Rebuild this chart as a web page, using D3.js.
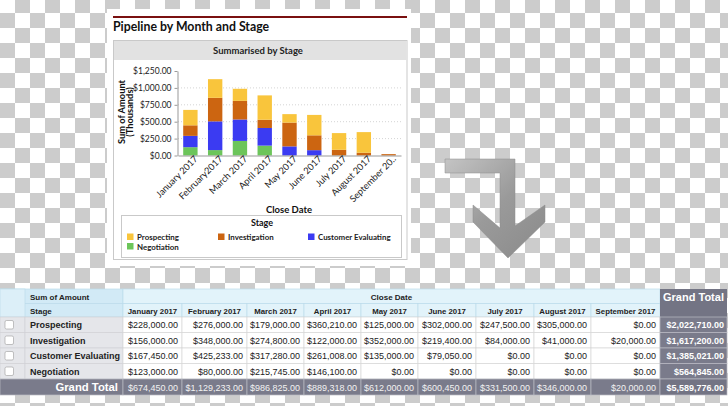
<!DOCTYPE html>
<html><head><meta charset="utf-8">
<script src="https://cdn.jsdelivr.net/npm/d3@7"></script>
<style>html,body{margin:0;padding:0;background:#fff;overflow:hidden}svg{display:block}</style>
</head><body>
<script>
// ---------- DATA ----------
const months = ["January 2017","February 2017","March 2017","April 2017","May 2017","June 2017","July 2017","August 2017","September 2017"];
const chartMonthLabels = ["January 2017","February2017","March 2017","April 2017","May 2017","June 2017","July 2017","August 2017","September 20.."];
const stages = ["Prospecting","Investigation","Customer Evaluating","Negotiation"];
const prospecting = [228000,276000,179000,360210,125000,302000,247500,305000,0];
const investigation = [156000,348000,274800,122000,352000,219400,84000,41000,20000];
const customerEvaluating = [167450,425233,317280,261008,135000,79050,0,0,0];
const negotiation = [123000,80000,215745,146100,0,0,0,0,0];
const yTicks = [0,250,500,750,1000,1250];
const stageColors = {"Prospecting":"#f9c53c","Investigation":"#cc6511","Customer Evaluating":"#3b3bf2","Negotiation":"#6cc55a"};

const seriesByStage = {"Prospecting":prospecting,"Investigation":investigation,"Customer Evaluating":customerEvaluating,"Negotiation":negotiation};
const rows = months.map((m,i)=>({month:m,label:chartMonthLabels[i],
  "Prospecting":prospecting[i]/1000,"Investigation":investigation[i]/1000,
  "Customer Evaluating":customerEvaluating[i]/1000,"Negotiation":negotiation[i]/1000}));

const W=728,H=406;
const svg=d3.select("body").append("svg").attr("width",W).attr("height",H);
const defs=svg.append("defs");
const pat=defs.append("pattern").attr("id","checker").attr("patternUnits","userSpaceOnUse")
  .attr("width",30).attr("height",30).attr("patternTransform","translate(0,-2)");
pat.append("rect").attr("width",30).attr("height",30).attr("fill","#ffffff");
pat.append("rect").attr("x",15).attr("y",0).attr("width",15).attr("height",15).attr("fill","#cccccc");
pat.append("rect").attr("x",0).attr("y",15).attr("width",15).attr("height",15).attr("fill","#cccccc");
svg.append("rect").attr("width",W).attr("height",H).attr("fill","url(#checker)");

// ---------- CHART CARD ----------
const LATO="Lato, 'Open Sans', sans-serif";
svg.append("rect").attr("x",107).attr("y",9).attr("width",304).attr("height",257).attr("fill","#fff");
svg.append("rect").attr("x",113).attr("y",16).attr("width",294).attr("height",2).attr("fill","#7a1010");
svg.append("text").attr("x",113).attr("y",31).attr("font-family",LATO).attr("font-weight","bold")
  .attr("font-size",12.3).attr("fill","#111").text("Pipeline by Month and Stage");
svg.append("rect").attr("x",113.5).attr("y",40.5).attr("width",293.5).attr("height",219)
  .attr("fill","#fff").attr("stroke","#c9c9c9");
svg.append("rect").attr("x",114).attr("y",41).attr("width",292.5).attr("height",19).attr("fill","#e2e2e2");
svg.append("text").attr("x",258).attr("y",54).attr("text-anchor","middle").attr("font-family",LATO)
  .attr("font-weight","bold").attr("font-size",9.5).attr("fill","#222").text("Summarised by Stage");

const x=d3.scaleBand().domain(chartMonthLabels).range([178,401]).paddingInner(0.42).paddingOuter(0.21);
const y=d3.scaleLinear().domain([0,1250]).range([155.5,71]);

const g=svg.append("g");
g.selectAll("line.grid").data(yTicks.slice(1,-1)).join("line")
  .attr("x1",178).attr("x2",401).attr("y1",d=>y(d)).attr("y2",d=>y(d))
  .attr("stroke","#d4d4d4").attr("stroke-dasharray","1,2");

const stackOrder=["Negotiation","Customer Evaluating","Investigation","Prospecting"];
const stacked=d3.stack().keys(stackOrder)(rows);
g.selectAll("g.layer").data(stacked).join("g").attr("fill",d=>stageColors[d.key])
  .selectAll("rect").data(d=>d).join("rect")
  .attr("x",d=>x(d.data.label)).attr("width",x.bandwidth())
  .attr("y",d=>y(d[1])).attr("height",d=>Math.max(0,y(d[0])-y(d[1])));

const yAxis=svg.append("g").attr("transform","translate(177.5,0)")
  .call(d3.axisLeft(y).tickValues(yTicks).tickFormat(d3.format("$,.2f")).tickSize(3).tickSizeOuter(0));
yAxis.selectAll("text").attr("font-family",LATO).attr("font-size",8.5).attr("fill","#222");
yAxis.selectAll("line,path").attr("stroke","#999");

const xAxis=svg.append("g").attr("transform","translate(0,155.5)")
  .call(d3.axisBottom(x).tickSize(0).tickSizeOuter(0));
xAxis.select("path").attr("stroke","#999");
xAxis.selectAll("text").attr("font-family",LATO).attr("font-size",9.2).attr("fill","#222")
  .attr("text-anchor","end").attr("dx","0.3em").attr("dy","0.6em")
  .attr("transform","rotate(-45)");

svg.append("text").attr("transform","translate(124.5,112) rotate(-90)").attr("text-anchor","middle")
  .attr("font-family",LATO).attr("font-weight","bold").attr("font-size",9.3).attr("fill","#111")
  .text("Sum of Amount");
svg.append("text").attr("transform","translate(132.5,112) rotate(-90)").attr("text-anchor","middle")
  .attr("font-family",LATO).attr("font-weight","bold").attr("font-size",9.3).attr("fill","#111")
  .text("(Thousands)");
svg.append("text").attr("x",289).attr("y",213).attr("text-anchor","middle").attr("font-family",LATO)
  .attr("font-weight","bold").attr("font-size",9.5).attr("fill","#111").text("Close Date");

// legend
svg.append("rect").attr("x",121.5).attr("y",215.5).attr("width",280).attr("height",42)
  .attr("fill","#fff").attr("stroke","#c9c9c9");
svg.append("text").attr("x",262).attr("y",226).attr("text-anchor","middle").attr("font-family",LATO)
  .attr("font-weight","bold").attr("font-size",9).attr("fill","#111").text("Stage");
const legPos=[[127,240],[218,240],[308,240],[127,249.5]];
const lg=svg.append("g").selectAll("g").data(stages).join("g")
  .attr("transform",(d,i)=>`translate(${legPos[i][0]},${legPos[i][1]})`);
lg.append("rect").attr("x",0).attr("y",-6.5).attr("width",6.5).attr("height",6.5).attr("fill",d=>stageColors[d]);
lg.append("text").attr("x",10).attr("y",0).attr("font-family",LATO).attr("font-size",7.9).attr("font-weight","bold")
  .attr("fill","#222").text(d=>d);

// ---------- ARROW ----------
const ag=defs.append("linearGradient").attr("id","arrowGrad").attr("x1","0").attr("y1","0").attr("x2","1").attr("y2","1");
ag.append("stop").attr("offset","0").attr("stop-color","#c4c4c4");
ag.append("stop").attr("offset","0.5").attr("stop-color","#9a9a9a");
ag.append("stop").attr("offset","1").attr("stop-color","#8a8a8a");
const arrowPts=[[445,159],[515,159],[515,226],[545,205],[545,222],[508,258],[473,222],[473,205],[500,228],[500,173],[445,173]];
svg.append("path").attr("d",d3.line()(arrowPts)+"Z").attr("fill","url(#arrowGrad)").attr("stroke","#8c8c8c").attr("stroke-width",0.5);

// ---------- TABLE ----------
const SANS="'Liberation Sans', Arial, sans-serif";
const colW=[25,98,59,65,57,57,57,58,58,57,69,67];
const colX=[0]; colW.forEach(w=>colX.push(colX[colX.length-1]+w));
const rowY=[289,303.5,317,332.5,348,363.5,379,395];
const fmt=d3.format("$,.2f");
const tg=svg.append("g");
function cell(x0,x1,y0,y1,fill,stroke){tg.append("rect").attr("x",x0).attr("y",y0).attr("width",x1-x0).attr("height",y1-y0).attr("fill",fill).attr("stroke",stroke||"none").attr("stroke-width",0.7);}
function txt(xx,yy,t,opts){return tg.append("text").attr("x",xx).attr("y",yy).attr("font-family",SANS)
  .attr("font-size",opts.size||9).attr("font-weight",opts.bold?"bold":"normal")
  .attr("fill",opts.color||"#222").attr("text-anchor",opts.anchor||"start").text(t);}

// header rows
cell(0,colX[11],rowY[0],rowY[2],"#dceff8");
cell(colX[0],colX[2],rowY[0],rowY[1],"#d2eaf6","#bcdcec");
cell(colX[0],colX[2],rowY[1],rowY[2],"#d2eaf6","#bcdcec");
cell(0,colX[1],rowY[0],rowY[2],"#dceff8","#bcdcec");
cell(colX[2],colX[11],rowY[0],rowY[1],"#e2f3fa","#bcdcec");
for(let c=2;c<11;c++) cell(colX[c],colX[c+1],rowY[1],rowY[2],"#e2f3fa","#bcdcec");
txt(30,299.5,"Sum of Amount",{bold:true,size:8});
txt(30,313.5,"Stage",{bold:true,size:8});
txt((colX[2]+colX[11])/2,299.5,"Close Date",{bold:true,size:8,anchor:"middle"});
months.forEach((m,i)=>txt((colX[i+2]+colX[i+3])/2,313.5,m,{bold:true,size:7.8,anchor:"middle"}));
cell(colX[11],colX[12],rowY[0],rowY[2],"#737484");
txt((colX[11]+colX[12])/2,301,"Grand Total",{bold:true,size:11,color:"#fff",anchor:"middle"});

// data rows
stages.forEach((s,r)=>{
  const y0=rowY[r+2],y1=rowY[r+3],ty=y1-4.5;
  cell(colX[0],colX[1],y0,y1,"#e5e6ea","#d2d2d6");
  cell(colX[1],colX[2],y0,y1,"#e5e6ea","#d2d2d6");
  tg.append("rect").attr("x",5).attr("y",y0+3.5).attr("width",8.5).attr("height",8.5).attr("rx",1.5)
    .attr("fill","#fff").attr("stroke","#9a9a9a").attr("stroke-width",0.6);
  txt(30,ty,s,{bold:true,size:9});
  const vals=seriesByStage[s];
  vals.forEach((v,i)=>{cell(colX[i+2],colX[i+3],y0,y1,"#fff","#d6d6d6");
    txt(colX[i+3]-4,ty,fmt(v),{size:9,anchor:"end"});});
  cell(colX[11],colX[12],y0,y1,"#7a7b8b","#b9bac4");
  txt(colX[12]-3,ty,fmt(d3.sum(vals)),{bold:true,size:9,color:"#fff",anchor:"end"});
});

// grand total row
const gy0=rowY[6],gy1=rowY[7],gty=gy1-4.5;
cell(colX[0],colX[2],gy0,gy1,"#7a7b8b","#b9bac4");
txt(colX[2]-5,gty+0.5,"Grand Total",{bold:true,size:11.3,color:"#fff",anchor:"end"});
months.forEach((m,i)=>{
  const tot=stages.reduce((a,s)=>a+seriesByStage[s][i],0);
  cell(colX[i+2],colX[i+3],gy0,gy1,"#7a7b8b","#b9bac4");
  txt(colX[i+3]-4,gty,fmt(tot),{size:9,color:"#f2f2f2",anchor:"end"});
});
cell(colX[11],colX[12],gy0,gy1,"#737484","#b9bac4");
txt(colX[12]-3,gty,fmt(d3.sum(stages,s=>d3.sum(seriesByStage[s]))),{bold:true,size:9,color:"#fff",anchor:"end"});
</script>
</body></html>
